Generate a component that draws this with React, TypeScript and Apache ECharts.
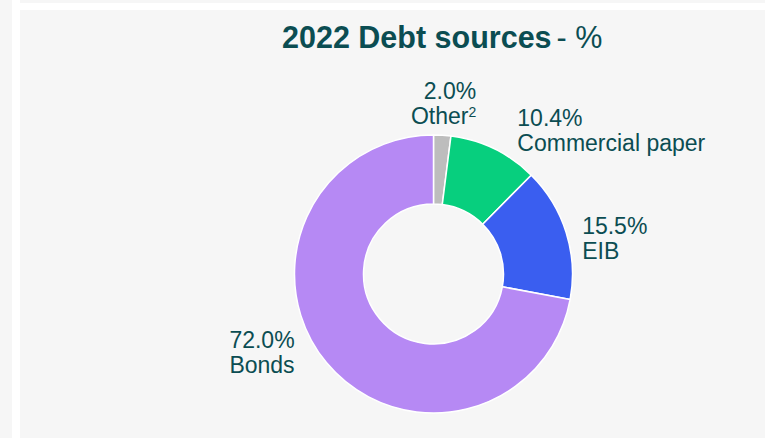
import React, { useEffect, useRef } from "react";
import * as echarts from "echarts";

const categories = ["Other", "Commercial paper", "EIB", "Bonds"];
const footnotes = ["2", "", "", ""];
const shares = [2.0, 10.4, 15.5, 72.0];
const colors = ["#bdbdbd", "#07cf7e", "#3a5ef0", "#b689f4"];

const TEXT = "#0b4d52";
const FONT = "'Liberation Sans', Arial, sans-serif";

// label nudges (dx, dy, align) relative to the library's outside anchor
const labelNudges = [
  { dx: 34, dy: -32, align: "right" },
  { dx: 23, dy: -19, align: "left" },
  { dx: 16, dy: 6, align: "left" },
  { dx: -32, dy: -10, align: "right" },
];

export default function App() {
  const ref = useRef<HTMLDivElement>(null);
  useEffect(() => {
    document.body.style.margin = "0";
    const chart = echarts.init(ref.current!, null, { renderer: "svg" });
    chart.setOption({
      animation: false,
      backgroundColor: "#f6f6f6",
      graphic: [
        { type: "rect", shape: { x: 12, y: 0, width: 8, height: 438 }, style: { fill: "#ffffff" }, silent: true },
        { type: "rect", shape: { x: 20, y: 3, width: 745, height: 7 }, style: { fill: "#ffffff" }, silent: true },
      ],
      title: {
        text: "{b|2022 Debt sources} {n|- %}",
        left: 277,
        top: 16,
        textStyle: {
          rich: {
            b: { fontFamily: FONT, fontWeight: "bold", fontSize: 30.5, color: TEXT },
            n: { fontFamily: FONT, fontWeight: "normal", fontSize: 30.5, color: TEXT },
          },
        },
      },
      series: [
        {
          type: "pie",
          center: [433.5, 274],
          radius: [70, 139],
          startAngle: 90,
          clockwise: true,
          avoidLabelOverlap: false,
          itemStyle: { borderColor: "#ffffff", borderWidth: 1.5 },
          label: {
            show: true,
            position: "outside",
            distanceToLabelLine: 0,
            fontFamily: FONT,
            fontSize: 23,
            lineHeight: 25,
            color: TEXT,
            formatter: (p: any) => {
              const fn = footnotes[p.dataIndex];
              return `{t|${p.value.toFixed(1)}%}\n{t|${p.name}}` + (fn ? `{s|${fn}}` : "");
            },
            rich: {
              t: { fontFamily: FONT, fontSize: 23, lineHeight: 25, color: TEXT },
              s: { fontFamily: FONT, fontSize: 14, lineHeight: 14, color: TEXT, verticalAlign: "top", padding: [2, 0, 0, 0] },
            },
          },
          labelLine: { show: false, length: 0, length2: 0 },
          labelLayout: (params: any) => {
            const n = labelNudges[params.dataIndex];
            return { dx: n.dx, dy: n.dy, align: n.align };
          },
          emphasis: { disabled: true },
          data: categories.map((name, i) => ({
            name,
            value: shares[i],
            itemStyle: { color: colors[i] },
          })),
        },
      ],
    });
    return () => chart.dispose();
  }, []);
  return <div ref={ref} style={{ width: 765, height: 438 }} />;
}
